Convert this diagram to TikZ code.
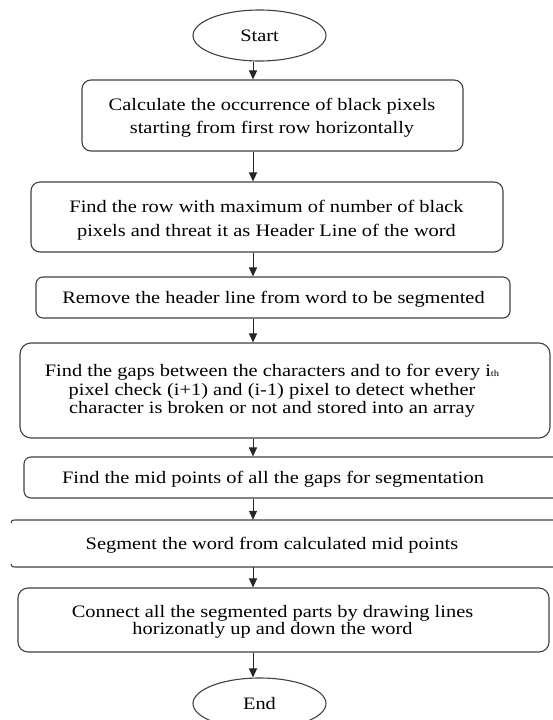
\documentclass[tikz,border=0pt]{standalone}
\usepackage{fontspec}
\setmainfont{Liberation Serif}[FakeStretch=1.165]
\usetikzlibrary{arrows.meta,shapes.geometric}
\begin{document}
\begin{tikzpicture}[x=1pt,y=-1pt,
  frame/.style={draw=black!75,line width=1.1pt,rounded corners=9pt,inner sep=0pt},
  bare/.style={inner sep=0pt},
  boxline/.style={draw=black!75,line width=1.1pt},
  oval/.style={ellipse,draw=black!75,line width=1.1pt,inner sep=0pt,minimum width=133pt,minimum height=51pt,font=\fontsize{17.5}{20}\selectfont},
  txt/.style={align=center,inner sep=0pt,font=\fontsize{17.5}{#1}\selectfont},
  txt/.default=23pt,
  flow/.style={draw=black!85,line width=1pt,-{Triangle[length=9pt,width=8pt]}}]
\useasboundingbox (0,0) rectangle (552,720);
\coordinate (ax) at (253,0);
% nodes
\node[oval] (start) at (259.5,35.5) {Start};
\node[frame,minimum width=381pt,minimum height=71pt] (b1) at (272.5,115.5) {};
\node[txt=23pt] (t1) at (272,118) {Calculate the occurrence of black pixels\\starting from first row horizontally};
\node[frame,minimum width=472pt,minimum height=70pt] (b2) at (267,217) {};
\node[txt=24pt] (t2) at (266.5,220) {Find the row with maximum of number of black\\pixels and threat it as Header Line of the word};
\node[frame,rounded corners=7pt,minimum width=474pt,minimum height=41pt] (b3) at (273,297.5) {};
\node[txt] (t3) at (273.5,299) {Remove the header line from word to be segmented};
\node[frame,rounded corners=11pt,minimum width=530pt,minimum height=95pt] (b4) at (285,390.5) {};
\node[txt=18.5pt] (t4) at (272,391) {Find the gaps between the characters and to for every i{\fontsize{9}{9}\selectfont th}\\pixel check (i+1) and (i-1) pixel to detect whether\\character is broken or not and stored into an array};
\node[frame,rounded corners=7pt,minimum width=541pt,minimum height=41pt] (b5) at (294.5,477.5) {};
\node[txt] (t5) at (273,479) {Find the mid points of all the gaps for segmentation};
\node[bare,minimum width=554pt,minimum height=47pt] (b6) at (288,543.5) {};
\draw[boxline] (565,520) -- (15,520) .. controls (12,520) .. (11,523);
\draw[boxline] (11,564) .. controls (12,567) .. (15,567) -- (565,567);
\node[txt] (t6) at (272,545) {Segment the word from calculated mid points};
\node[frame,rounded corners=10pt,minimum width=531pt,minimum height=64pt] (b7) at (283.5,620) {};
\node[txt=16.5pt] (t7) at (272.5,622) {Connect all the segmented parts by drawing lines\\horizonatly up and down the word};
\node[oval] (end) at (259.5,703.5) {End};
% connectors
\draw[flow] (start.south -| ax) -- (b1.north -| ax);
\draw[flow] (b1.south -| ax) -- (b2.north -| ax);
\draw[flow] (b2.south -| ax) -- (b3.north -| ax);
\draw[flow] (b3.south -| ax) -- (b4.north -| ax);
\draw[flow] (b4.south -| ax) -- (b5.north -| ax);
\draw[flow] (b5.south -| ax) -- (b6.north -| ax);
\draw[flow] (b6.south -| ax) -- (b7.north -| ax);
\draw[flow] (b7.south -| ax) -- (end.north -| ax);
\end{tikzpicture}
\end{document}
